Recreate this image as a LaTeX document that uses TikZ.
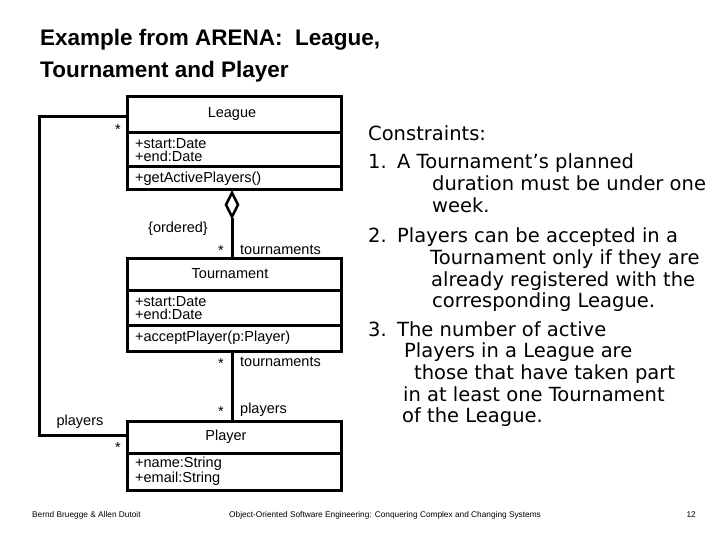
\documentclass[tikz,border=0pt]{standalone}
\usepackage{fontspec}
\setmainfont{Liberation Sans}
\newfontfamily\verd{DejaVu Sans}
\usetikzlibrary{shapes.geometric}
\begin{document}
\begin{tikzpicture}[x=1pt,y=-1pt,
  box/.style={draw,line width=3pt},
  wire/.style={line width=3pt},
  lbl/.style={font=\fontsize{14.5}{15}\selectfont,inner sep=0pt},
  cls/.style={font=\fontsize{14.5}{13}\selectfont,inner sep=0pt,anchor=west,align=left},
  con/.style={font=\verd\fontsize{19.5}{21.7}\selectfont,inner sep=0pt,anchor=base west}]
\useasboundingbox (0,0) rectangle (720,540);
% title
\node[anchor=base west,inner sep=0pt,font=\bfseries\fontsize{22.5}{27}\selectfont] (title1) at (40,46) {Example from ARENA:\ \ League,};
\node[anchor=base west,inner sep=0pt,font=\bfseries\fontsize{22.5}{27}\selectfont] (title2) at (40,78) {Tournament and Player};
% League
\draw[box] (127,97) rectangle (341,190);
\draw[wire] (127,133) -- (341,133);
\draw[wire] (127,167) -- (341,167);
\node[lbl] (lg) at (232,114) {League};
\node[cls] (lga) at (135,150) {+start:Date\\+end:Date};
\node[cls] (lgo) at (135,179) {+getActivePlayers()};
% Tournament
\draw[box] (127,258) rectangle (341,351);
\draw[wire] (127,290) -- (341,290);
\draw[wire] (127,325) -- (341,325);
\node[lbl] (tn) at (230,274) {Tournament};
\node[cls] (tna) at (135,308) {+start:Date\\+end:Date};
\node[cls] (tno) at (135,338) {+acceptPlayer(p:Player)};
% Player
\draw[box] (127,421) rectangle (341,490);
\draw[wire] (127,453) -- (341,453);
\node[lbl] (pl) at (226,437) {Player};
\node[cls] (pla) at (135,471) {+name:String\\+email:String};
% aggregation
\node[diamond,draw,line width=2.5pt,minimum width=13pt,minimum height=25pt,inner sep=0pt,anchor=north] (dia) at (232,191) {};
\coordinate (tt) at (232,258);
\coordinate (tb) at (232,351);
\coordinate (pt) at (232,421);
\draw[wire] (dia.south) -- (tt);
\draw[wire] (tb) -- (pt);
\coordinate (l1) at (127,117);
\coordinate (l2) at (39,117);
\coordinate (l3) at (39,435);
\coordinate (l4) at (127,435);
\draw[wire] (l1) -- (l2) -- (l3) -- (l4);
\node[lbl] (s1) at (118,130) {*};
\node[lbl] (s2) at (118,448) {*};
\node[lbl] (pls) at (80,422) {players};
\node[lbl] (ord) at (178,229) {\{ordered\}};
\node[lbl] (s3) at (221,251) {*};
\node[lbl,anchor=west] (t1) at (240,250) {tournaments};
\node[lbl] (s4) at (221,364) {*};
\node[lbl,anchor=west] (t2) at (240,362) {tournaments};
\node[lbl] (s5) at (221,412) {*};
\node[lbl,anchor=west] (p2) at (240,410) {players};
% constraints (base line = centre + 7)
\node[con] (c0) at (368,141) {Constraints:};
\node[con] (n1) at (368,169) {1.};
\node[con] (c1) at (397,169) {A Tournament’s planned};
\node[con] (c2) at (432,191) {duration must be under one};
\node[con] (c3) at (432,213) {week.};
\node[con] (n2) at (368,242) {2.};
\node[con] (c4) at (397,242) {Players can be accepted in a};
\node[con] (c5) at (430,264) {Tournament only if they are};
\node[con] (c6) at (431,286) {already registered with the};
\node[con] (c7) at (432,307) {corresponding League.};
\node[con] (n3) at (368,336) {3.};
\node[con] (c8) at (397,336) {The number of active};
\node[con] (c9) at (404,357) {Players in a League are};
\node[con] (c10) at (414,379) {those that have taken part};
\node[con] (c11) at (403,401) {in at least one Tournament};
\node[con] (c12) at (402,422) {of the League.};
% footer
\node[anchor=west,inner sep=0pt,font=\fontsize{8.3}{9}\selectfont] (f1) at (32,515) {Bernd Bruegge \& Allen Dutoit};
\node[anchor=west,inner sep=0pt,font=\fontsize{8.3}{9}\selectfont] (f2) at (229,515) {Object-Oriented Software Engineering: Conquering Complex and Changing Systems};
\node[anchor=east,inner sep=0pt,font=\fontsize{8.3}{9}\selectfont] (f3) at (696,515) {12};
\end{tikzpicture}
\end{document}
